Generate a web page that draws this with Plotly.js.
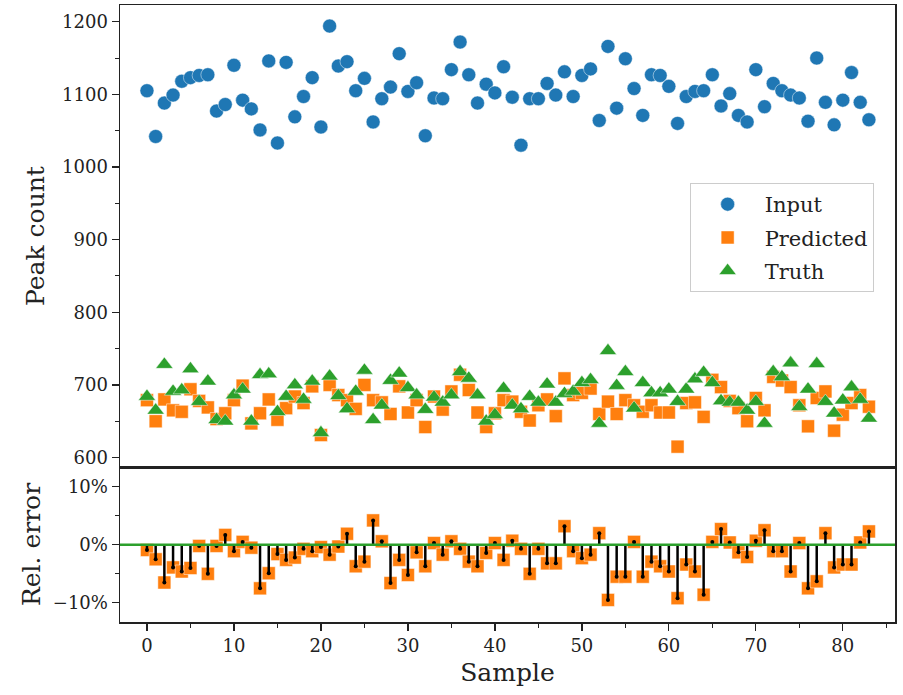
<!DOCTYPE html>
<html>
<head>
<meta charset="utf-8">
<script src="https://cdn.plot.ly/plotly-3.0.1.min.js"></script>
<style>html,body{margin:0;padding:0;background:#fff;}#chart{width:903px;height:695px;}</style>
</head>
<body>
<div id="chart"></div>
<script>
const samples = Array.from({length: 84}, (_, i) => i);

const inputCounts = [1105,1042,1088,1099,1118,1123,1126,1127,1077,1086,
  1140,1092,1080,1051,1146,1033,1144,1069,1097,1123,
  1055,1194,1139,1145,1105,1122,1062,1094,1110,1156,
  1104,1116,1043,1095,1094,1134,1172,1127,1088,1114,
  1102,1138,1096,1030,1094,1094,1115,1099,1131,1097,
  1126,1135,1064,1166,1081,1149,1108,1071,1127,1126,
  1111,1060,1097,1104,1105,1127,1084,1101,1071,1062,
  1134,1083,1115,1105,1099,1095,1063,1150,1089,1058,
  1092,1130,1089,1065];

const predictedCounts = [679,650,680,665,663,694,678,669,653,661,
  679,699,647,661,680,652,668,684,675,698,
  631,700,686,679,667,700,679,676,660,698,
  662,679,642,684,666,691,714,693,662,642,
  661,679,677,663,651,672,680,657,709,686,
  689,695,660,677,660,679,672,663,672,662,
  662,615,675,676,656,707,697,678,668,650,
  682,665,711,706,697,672,643,682,691,637,
  659,675,686,670];

const truthCounts = [684,665,728,691,693,722,677,705,652,650,
  686,694,650,714,715,663,684,700,680,705,
  634,712,685,667,691,720,652,672,706,716,
  696,686,666,683,676,686,718,709,686,650,
  659,695,672,667,684,676,701,676,688,691,
  703,707,647,747,699,718,668,703,689,689,
  694,677,694,708,717,703,678,676,676,665,
  677,647,718,711,730,670,694,729,677,661,
  679,697,680,654];

// relative error in percent
const relErrorPct = [-0.9,-2.5,-6.5,-3.9,-4.6,-4.0,-0.2,-5.0,-0.2,1.7,
  -1.1,0.5,-0.5,-7.5,-4.9,-1.6,-2.6,-2.2,-0.7,-1.1,
  -0.4,-1.7,-0.3,1.9,-3.7,-2.9,4.2,0.6,-6.6,-2.6,
  -5.2,-1.3,-3.7,0.3,-1.7,0.6,-0.7,-2.9,-3.7,-1.4,
  0.3,-2.6,0.7,-0.7,-5.0,-0.7,-3.2,-3.2,3.2,-1.1,
  -2.3,-1.7,2.0,-9.5,-5.5,-5.5,0.5,-5.5,-2.9,-3.7,
  -4.6,-9.2,-3.4,-4.6,-8.6,0.5,2.7,0.4,-1.3,-2.1,
  0.7,2.5,-1.1,-1.1,-4.6,0.3,-7.5,-6.3,2.0,-3.9,
  -3.4,-3.4,0.4,2.3];

const seriesNames = ['Input', 'Predicted', 'Truth'];
const xTitle = 'Sample';
const yTitleTop = 'Peak count';
const yTitleBottom = 'Rel. error';

const BLUE = '#1f77b4', ORANGE = '#ff7f0e', GREEN = '#2ca02c', INK = '#222222';
const FONT = 'DejaVu Serif, Liberation Serif, serif';

// stems built from the data arrays
const stemX = [], stemY = [];
samples.forEach((s, i) => { stemX.push(s, s, null); stemY.push(0, relErrorPct[i], null); });

const edge = {color: 'rgba(255,255,255,0.8)', width: 0.6};

const traces = [
  {x: samples, y: inputCounts, name: seriesNames[0], type: 'scatter', mode: 'markers',
   xaxis: 'x', yaxis: 'y', legendgroup: 'a',
   marker: {symbol: 'circle', size: 14, color: BLUE, line: edge}},
  {x: samples, y: predictedCounts, name: seriesNames[1], type: 'scatter', mode: 'markers',
   xaxis: 'x', yaxis: 'y', legendgroup: 'b',
   marker: {symbol: 'square', size: 13, color: ORANGE, line: edge}},
  {x: samples, y: truthCounts, name: seriesNames[2], type: 'scatter', mode: 'markers',
   xaxis: 'x', yaxis: 'y', legendgroup: 'c',
   marker: {symbol: 'triangle-up', size: 15, color: GREEN, line: edge}},
  {x: samples, y: relErrorPct, type: 'scatter', mode: 'markers', showlegend: false,
   xaxis: 'x2', yaxis: 'y2', hoverinfo: 'skip',
   marker: {symbol: 'square', size: 13, color: ORANGE, line: edge}},
  {x: stemX, y: stemY, type: 'scatter', mode: 'lines', showlegend: false,
   xaxis: 'x2', yaxis: 'y2', hoverinfo: 'skip', connectgaps: false,
   line: {color: '#000000', width: 2.5}},
  {x: samples, y: relErrorPct, type: 'scatter', mode: 'markers', showlegend: false,
   xaxis: 'x2', yaxis: 'y2', hoverinfo: 'skip',
   marker: {symbol: 'circle', size: 4, color: '#000000'}}
];

const split = 155 / 617;
const axisCommon = {
  showgrid: false, zeroline: false, showline: true, linecolor: INK, linewidth: 1.5,
  mirror: true, tickcolor: INK, tickwidth: 1.3, ticklen: 7,
  tickfont: {family: FONT, size: 18, color: INK}
};
const titleFont = {family: FONT, size: 25, color: INK};

const layout = {
  width: 903, height: 695,
  margin: {l: 120, r: 8, t: 5, b: 73},
  paper_bgcolor: '#ffffff', plot_bgcolor: '#ffffff',
  font: {family: FONT, color: INK},
  showlegend: true,
  legend: {
    x: 0.735, y: 0.7115, xanchor: 'left', yanchor: 'top',
    bgcolor: 'rgba(255,255,255,0.85)', bordercolor: '#cccccc', borderwidth: 1,
    font: {family: FONT, size: 21, color: INK},
    tracegroupgap: 3, itemwidth: 64
  },
  xaxis: Object.assign({}, axisCommon, {
    anchor: 'y', range: [-3.1, 86.0], showticklabels: false, ticks: '', matches: 'x2'
  }),
  yaxis: Object.assign({}, axisCommon, {
    anchor: 'x', domain: [split, 1], range: [587, 1223], dtick: 100, tick0: 0,
    ticks: 'outside',
    minor: {dtick: 50, ticks: 'outside', ticklen: 4, tickcolor: INK, tickwidth: 1},
    title: {text: yTitleTop, font: titleFont, standoff: 10}
  }),
  xaxis2: Object.assign({}, axisCommon, {
    anchor: 'y2', range: [-3.1, 86.0], dtick: 10, tick0: 0, ticks: 'outside',
    minor: {dtick: 5, ticks: 'outside', ticklen: 4, tickcolor: INK, tickwidth: 1},
    title: {text: xTitle, font: titleFont, standoff: 8}
  }),
  yaxis2: Object.assign({}, axisCommon, {
    anchor: 'x2', domain: [0, split], range: [-13.3, 13.4], dtick: 10, tick0: 0,
    ticksuffix: '%', ticks: 'outside',
    minor: {dtick: 5, ticks: 'outside', ticklen: 4, tickcolor: INK, tickwidth: 1},
    title: {text: yTitleBottom, font: titleFont, standoff: 5}
  }),
  shapes: [
    {type: 'line', xref: 'x2 domain', x0: 0, x1: 1, yref: 'y2', y0: 0, y1: 0,
     line: {color: GREEN, width: 2.5}, layer: 'above'}
  ]
};

Plotly.newPlot('chart', traces, layout, {staticPlot: true, displayModeBar: false});
</script>
</body>
</html>
